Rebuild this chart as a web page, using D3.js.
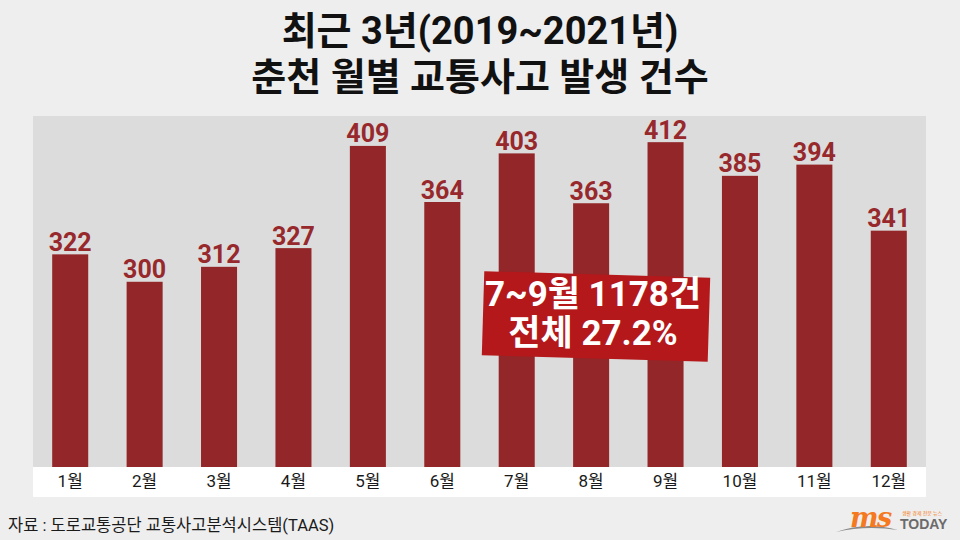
<!DOCTYPE html>
<html><head><meta charset="utf-8">
<script src="https://cdn.jsdelivr.net/npm/d3@7"></script>
<style>
html,body{margin:0;padding:0;background:#eeeeee;}
svg{display:block;}
</style></head>
<body>
<svg id="c" width="960" height="540"></svg>
<script>
const months = ["1월","2월","3월","4월","5월","6월","7월","8월","9월","10월","11월","12월"];
const counts = [322,300,312,327,409,364,403,363,412,385,394,341];
const titleLines = ["최근 3년(2019~2021년)","춘천 월별 교통사고 발생 건수"];
const calloutLines = ["7~9월 1178건","전체 27.2%"];
const sourceText = "자료 : 도로교통공단 교통사고분석시스템(TAAS)";

const FONT = "Roboto, 'Noto Sans CJK KR', sans-serif";
const svg = d3.select("#c");
svg.append("rect").attr("width",960).attr("height",540).attr("fill","#eeeeee");

const plot = {x0:33, x1:926, top:116, bottom:467, axisBottom:497};

svg.append("rect").attr("x",plot.x0).attr("y",plot.top)
  .attr("width",plot.x1-plot.x0).attr("height",plot.bottom-plot.top).attr("fill","#dcdcdc");
svg.append("rect").attr("x",plot.x0).attr("y",plot.bottom)
  .attr("width",plot.x1-plot.x0).attr("height",plot.axisBottom-plot.bottom).attr("fill","#ffffff");

const x = d3.scaleBand().domain(months).range([plot.x0,plot.x1]).paddingInner(0.516).paddingOuter(0.258);
const y = d3.scaleLinear().domain([151.4,433]).range([plot.bottom,plot.top]);

const data = months.map((m,i)=>({m, v:counts[i]}));

svg.append("g").selectAll("rect").data(data).join("rect")
  .attr("x",d=>x(d.m)).attr("y",d=>y(d.v))
  .attr("width",x.bandwidth()).attr("height",d=>plot.bottom-y(d.v))
  .attr("fill","#922628");

svg.append("g").selectAll("text").data(data).join("text")
  .attr("x",d=>x(d.m)+x.bandwidth()/2).attr("y",d=>y(d.v)-3.5)
  .attr("text-anchor","middle").attr("font-family",FONT).attr("font-weight","bold")
  .attr("font-size",25).attr("fill","#97282c").text(d=>d.v);

// x axis labels
const xAxis = d3.axisBottom(x).tickSize(0).tickPadding(0);
const ax = svg.append("g").attr("transform",`translate(0,${plot.bottom})`).call(xAxis);
ax.select(".domain").remove();
ax.selectAll("text").attr("font-family",FONT).attr("font-size",17).attr("fill","#1a1a1a")
  .attr("dy",null).attr("y",19.5);

// title
svg.append("g").selectAll("text").data(titleLines).join("text")
  .attr("x",480).attr("y",(d,i)=>44+i*45.5)
  .attr("text-anchor","middle").attr("font-family",FONT).attr("font-weight","bold")
  .attr("font-size",38).attr("fill","#111").text(d=>d);

// callout
const cg = svg.append("g").attr("transform","translate(596,316.5)");
cg.append("rect").attr("x",-113).attr("y",-42).attr("width",226).attr("height",84)
  .attr("transform","rotate(1.7)").attr("fill","#b4181b");
cg.selectAll("text").data(calloutLines).join("text")
  .attr("x",-3).attr("y",(d,i)=>[-11,28][i])
  .attr("text-anchor","middle").attr("font-family",FONT).attr("font-weight","bold")
  .attr("font-size",35).attr("fill","#ffffff").text(d=>d);

// source
svg.append("text").attr("x",8).attr("y",531).attr("font-family",FONT)
  .attr("font-size",16.5).attr("fill","#1a1a1a").text(sourceText);

// logo
const lg = svg.append("g");
lg.append("path").attr("d","M836,532 Q866,521 898,530 Q866,525 836,532 Z").attr("fill","#8a8a8a");
lg.append("text").attr("x",850).attr("y",527).attr("font-family","'DejaVu Serif', serif")
  .attr("font-style","italic").attr("font-weight","bold").attr("font-size",27)
  .attr("fill","#f47920").attr("letter-spacing",-1.5).text("ms");
lg.append("text").attr("x",900).attr("y",529).attr("font-family","'Liberation Sans', Arial, sans-serif")
  .attr("font-weight","bold").attr("font-size",14).attr("fill","#6b6b6b").text("TODAY");
lg.append("text").attr("x",902).attr("y",515).attr("font-family","'Noto Sans CJK KR', sans-serif")
  .attr("font-size",5).attr("fill","#f47920").text("생활 경제 전문 뉴스");
</script>
</body></html>
